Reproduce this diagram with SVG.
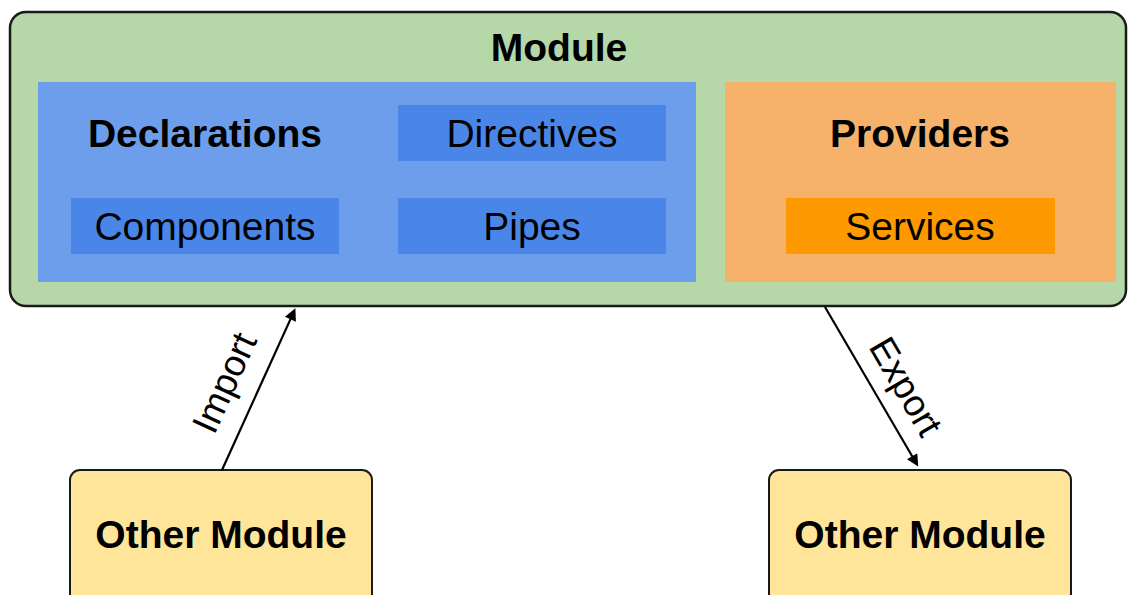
<svg xmlns="http://www.w3.org/2000/svg" width="1128" height="595" viewBox="0 0 1128 595">
  <defs>
    <marker id="arrow" viewBox="0 0 10 10" refX="7" refY="5" markerWidth="17" markerHeight="12" markerUnits="userSpaceOnUse" orient="auto">
      <path d="M0,0 L10,5 L0,10 z" fill="#000"/>
    </marker>
    <style>
      text { font-family: "Liberation Sans", Arial, sans-serif; font-size: 39px; fill: #000; text-anchor: middle; }
      .bold { font-weight: bold; }
      .label { font-size: 37px; }
      .edge { stroke: #000; stroke-width: 2.2; fill: none; }
      .inner-blue { fill: #4a86e8; }
    </style>
  </defs>

  <rect x="0" y="0" width="1128" height="595" fill="#fff"/>

  <!-- outer module container -->
  <g id="module">
    <rect x="10" y="12" width="1116" height="294" rx="16" ry="16" fill="#b6d7a8" stroke="#1a1a1a" stroke-width="2.5"/>
    <text class="bold" x="559" y="61">Module</text>
  </g>

  <!-- declarations block -->
  <g id="declarations">
    <rect x="38" y="82" width="658" height="200" fill="#6d9eeb"/>
    <text class="bold" x="205" y="147">Declarations</text>
  </g>
  <g id="components">
    <rect class="inner-blue" x="71" y="198" width="268" height="56"/>
    <text x="205" y="240">Components</text>
  </g>
  <g id="directives">
    <rect class="inner-blue" x="398" y="105" width="268" height="56"/>
    <text x="532" y="147">Directives</text>
  </g>
  <g id="pipes">
    <rect class="inner-blue" x="398" y="198" width="268" height="56"/>
    <text x="532" y="240">Pipes</text>
  </g>

  <!-- providers block -->
  <g id="providers">
    <rect x="725" y="82" width="391" height="200" fill="#f6b26b"/>
    <text class="bold" x="920" y="147">Providers</text>
  </g>
  <g id="services">
    <rect x="786" y="198" width="269" height="56" fill="#ff9900"/>
    <text x="920" y="240">Services</text>
  </g>

  <!-- external modules -->
  <g id="other-module-import">
    <rect x="70" y="470" width="302" height="140" rx="10" ry="10" fill="#ffe599" stroke="#1a1a1a" stroke-width="2"/>
    <text class="bold" x="221" y="548">Other Module</text>
  </g>
  <g id="other-module-export">
    <rect x="769" y="470" width="302" height="140" rx="10" ry="10" fill="#ffe599" stroke="#1a1a1a" stroke-width="2"/>
    <text class="bold" x="920" y="548">Other Module</text>
  </g>

  <!-- connectors -->
  <g id="connectors">
    <path class="edge" d="M222,470 L293.9,311.6" marker-end="url(#arrow)"/>
    <text class="label" transform="translate(236,388) rotate(-65.6)">Import</text>
    <path class="edge" d="M825,307 L916.4,463.5" marker-end="url(#arrow)"/>
    <text class="label" transform="translate(895,393) rotate(59.7)">Export</text>
  </g>
</svg>
